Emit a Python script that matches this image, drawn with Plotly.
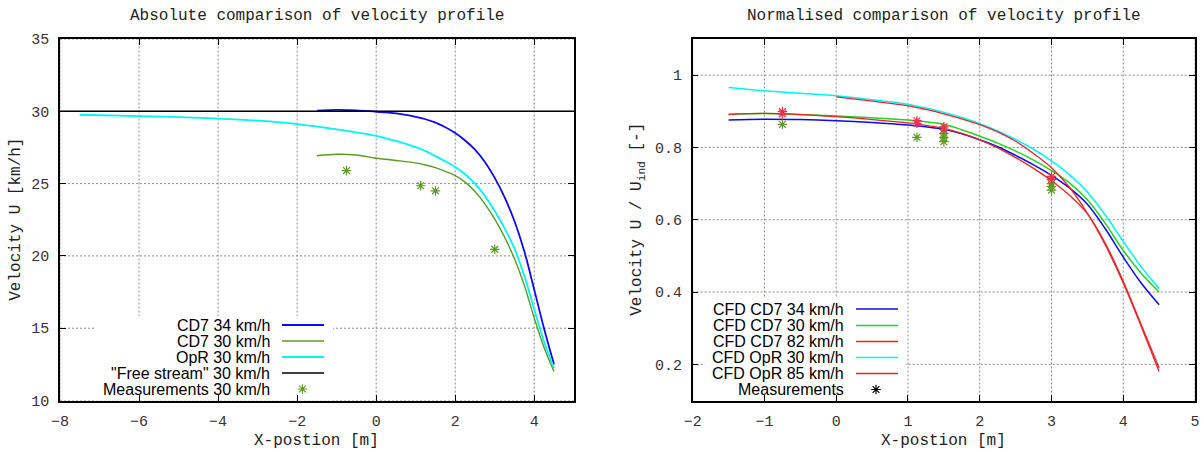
import plotly.graph_objects as go

W, H = 1204, 452

# ---------------- data: left panel (absolute velocity, km/h) ----------------
cd7_x = [-1.5, -1.0, -0.5, 0.0, 0.25, 0.5, 0.75, 1.0, 1.25, 1.5, 1.75, 2.0, 2.25, 2.5, 2.75,
         3.0, 3.25, 3.5, 3.75, 4.0, 4.25, 4.5]
cd7_34_u = [30.04, 30.1, 30.07, 29.97, 29.93, 29.86, 29.76, 29.62, 29.45, 29.22, 28.9, 28.5, 27.98,
            27.35, 26.5, 25.4, 24.05, 22.4, 20.3, 17.65, 14.95, 12.5]
cd7_30_u = [26.93, 27.03, 26.98, 26.75, 26.68, 26.6, 26.52, 26.43, 26.29, 26.1, 25.85, 25.55, 25.1,
            24.45, 23.6, 22.55, 21.3, 19.8, 17.95, 15.7, 13.65, 12.0]
opr_30_x = [-7.5, -6.0, -5.0, -4.0, -3.0, -2.0, -1.0, 0.0, 0.25, 0.5, 0.75, 1.0, 1.25, 1.5, 1.75,
            2.0, 2.25, 2.5, 2.75, 3.0, 3.25, 3.5, 3.75, 4.0, 4.25, 4.5]
opr_30_u = [29.76, 29.67, 29.6, 29.5, 29.35, 29.12, 28.75, 28.3, 28.13, 27.95, 27.75, 27.52, 27.25,
            26.9, 26.55, 26.15, 25.65, 25.0, 24.15, 23.1, 21.9, 20.5, 18.6, 16.3, 14.05, 12.25]
free_x = [-8, 5]
free_u = [30, 30]
meas_x = [-0.75, 1.125, 1.5, 3.0]
meas_u = [25.9, 24.85, 24.5, 20.45]

# ---------------- data: right panel (normalised, U / U_ind) ----------------
n_cd7_x = [-1.5, -1.0, -0.5, 0.0, 0.5, 1.0, 1.25, 1.5, 1.75, 2.0, 2.25, 2.5, 2.75, 3.0, 3.25,
           3.5, 3.75, 4.0, 4.25, 4.5]
n_cd7_34 = [0.876, 0.878, 0.877, 0.874, 0.869, 0.862, 0.857, 0.85, 0.838, 0.821, 0.802, 0.778,
            0.752, 0.723, 0.688, 0.643, 0.575, 0.497, 0.425, 0.365]
n_cd7_30 = [0.892, 0.894, 0.891, 0.887, 0.882, 0.876, 0.871, 0.864, 0.849, 0.831, 0.812, 0.79,
            0.765, 0.736, 0.702, 0.655, 0.59, 0.515, 0.452, 0.40]
n_cd7_82 = [0.891, 0.894, 0.891, 0.885, 0.877, 0.868, 0.861, 0.853, 0.839, 0.821, 0.799, 0.772,
            0.742, 0.708, 0.668, 0.617, 0.535, 0.43, 0.31, 0.19]
n_opr_30 = [0.966, 0.957, 0.95, 0.943, 0.932, 0.919, 0.909, 0.897, 0.883, 0.866, 0.846, 0.822,
            0.795, 0.763, 0.725, 0.677, 0.613, 0.54, 0.47, 0.41]
n_opr85_x = [0.0, 0.5, 1.0, 1.25, 1.5, 1.75, 2.0, 2.25, 2.5, 2.75, 3.0, 3.25, 3.5, 3.75, 4.0, 4.25, 4.5]
n_opr_85 = [0.94, 0.928, 0.915, 0.905, 0.893, 0.879, 0.863, 0.843, 0.817, 0.783, 0.744, 0.69,
            0.618, 0.53, 0.425, 0.305, 0.18]

nm_green_x = [-0.75, 1.125, 1.5, 3.0]
nm_green_a = [0.864, 0.828, 0.816, 0.682]
nm_green2_x = [1.5, 1.5, 3.0, 3.0]
nm_green2 = [0.827, 0.839, 0.692, 0.700]
nm_red_x = [-0.75, 1.125, 1.5, 3.0]
nm_red_a = [0.899, 0.874, 0.857, 0.720]
nm_red_b = [0.893, 0.867, 0.850, 0.711]

left_xticks = [-8, -6, -4, -2, 0, 2, 4]
left_yticks = [10, 15, 20, 25, 30, 35]
right_xticks = [-2, -1, 0, 1, 2, 3, 4, 5]
right_yticks = [0.2, 0.4, 0.6, 0.8, 1.0]
right_ytext = ["0.2", "0.4", "0.6", "0.8", "1"]

left_legend = ["CD7 34 km/h", "CD7 30 km/h", "OpR 30 km/h", "\"Free stream\" 30 km/h", "Measurements 30 km/h"]
right_legend = ["CFD CD7 34 km/h", "CFD CD7 30 km/h", "CFD CD7 82 km/h", "CFD OpR 30 km/h", "CFD OpR 85 km/h", "Measurements"]

# ---------------- styles ----------------
BLUE = "#0a0af0"
OLIVE = "#5a9b24"
CYAN = "#00f4f4"
BLACK = "#000000"
GREEN = "#22d422"
RED = "#f02020"
RED2 = "#e0282c"
MRED = "#f0304a"
GRID = "#8a8a8a"
MONO = "Liberation Mono, Courier New, monospace"
SANS = "Liberation Sans, Arial, sans-serif"

fig = go.Figure()

def line(x, y, color, width, name, xa="x", ya="y"):
    fig.add_trace(go.Scatter(x=x, y=y, mode="lines", name=name, showlegend=False,
                             line=dict(color=color, width=width, shape="spline", smoothing=1.0),
                             xaxis=xa, yaxis=ya))

def marks(x, y, color, name, xa="x", ya="y"):
    fig.add_trace(go.Scatter(x=x, y=y, mode="markers", name=name, showlegend=False,
                             marker=dict(symbol="asterisk-open", size=8, color=color,
                                         line=dict(color=color, width=1.2)),
                             xaxis=xa, yaxis=ya))

# left panel
line(cd7_x, cd7_34_u, BLUE, 1.8, "CD7 34 km/h")
line(cd7_x, cd7_30_u, OLIVE, 1.4, "CD7 30 km/h")
line(opr_30_x, opr_30_u, CYAN, 1.8, "OpR 30 km/h")
fig.add_trace(go.Scatter(x=free_x, y=free_u, mode="lines", name="Free stream", showlegend=False,
                         line=dict(color=BLACK, width=1.4)))
marks(meas_x, meas_u, OLIVE, "Measurements 30 km/h")

# right panel
line(n_cd7_x, n_cd7_34, BLUE, 1.5, "CFD CD7 34 km/h", "x2", "y2")
line(n_cd7_x, n_cd7_30, GREEN, 1.5, "CFD CD7 30 km/h", "x2", "y2")
line(n_cd7_x, n_cd7_82, RED, 1.3, "CFD CD7 82 km/h", "x2", "y2")
line(n_cd7_x, n_opr_30, CYAN, 1.5, "CFD OpR 30 km/h", "x2", "y2")
line(n_opr85_x, n_opr_85, RED2, 1.3, "CFD OpR 85 km/h", "x2", "y2")
marks(nm_green_x, nm_green_a, OLIVE, "Measurements", "x2", "y2")
marks(nm_green2_x, nm_green2, OLIVE, "Measurements", "x2", "y2")
marks(nm_red_x, nm_red_a, MRED, "Measurements", "x2", "y2")
marks(nm_red_x, nm_red_b, MRED, "Measurements", "x2", "y2")

# ---------------- geometry (pixels) ----------------
L = dict(x0=60, x1=573.8)
R = dict(x0=692.7, x1=1195)
TOP, BOT = 39, 400.5

def px(x):
    return x / W

def py(y):
    return 1 - y / H

axis_common = dict(showline=True, linecolor="black", linewidth=1.5, mirror="allticks",
                   ticks="inside", ticklen=6, tickcolor="black", tickwidth=1,
                   showgrid=False, zeroline=False, automargin=False,
                   tickfont=dict(family=MONO, size=15, color="#333333"))

fig.update_layout(
    width=W, height=H, margin=dict(l=0, r=0, t=0, b=0, autoexpand=False),
    paper_bgcolor="white", plot_bgcolor="rgba(0,0,0,0)", showlegend=False,
    xaxis=dict(domain=[px(L["x0"]), px(L["x1"])], range=[-8, 5], tickvals=left_xticks,
               anchor="y", ticklabelstandoff=6, **axis_common),
    yaxis=dict(domain=[py(BOT), py(TOP)], range=[10, 35], tickvals=left_yticks,
               anchor="x", ticklabelstandoff=6, **axis_common),
    xaxis2=dict(domain=[px(R["x0"]), px(R["x1"])], range=[-2, 5], tickvals=right_xticks,
                anchor="y2", ticklabelstandoff=6, **axis_common),
    yaxis2=dict(domain=[py(BOT), py(TOP)], range=[0.1, 1.1], tickvals=right_yticks,
                ticktext=right_ytext, anchor="x2", ticklabelstandoff=6, **axis_common),
    xaxis3=dict(domain=[0, 1], range=[0, W], visible=False, anchor="y3", fixedrange=True,
                automargin=False),
    yaxis3=dict(domain=[0, 1], range=[H, 0], visible=False, anchor="x3", fixedrange=True,
                automargin=False),
)

shapes = []
annotations = []

# dotted grid, drawn from the tick arrays (below traces)
grid_line = dict(color=GRID, width=1, dash="2px,2px")
for xa, ya, xt, yt in (("x", "y", left_xticks, left_yticks), ("x2", "y2", right_xticks, right_yticks)):
    for v in xt:
        shapes.append(dict(type="line", xref=xa, yref=ya + " domain", x0=v, x1=v, y0=0, y1=1,
                           layer="below", line=grid_line))
    for v in yt:
        shapes.append(dict(type="line", xref=xa + " domain", yref=ya, x0=0, x1=1, y0=v, y1=v,
                           layer="below", line=grid_line))

# legend background boxes hide the grid
shapes.append(dict(type="rect", xref="x domain", yref="y domain", layer="below",
                   x0=(95 - L["x0"]) / (L["x1"] - L["x0"]), x1=(333 - L["x0"]) / (L["x1"] - L["x0"]),
                   y0=0, y1=(BOT - 316) / (BOT - TOP), fillcolor="white", line=dict(width=0)))
shapes.append(dict(type="rect", xref="x2 domain", yref="y2 domain", layer="below",
                   x0=(705 - R["x0"]) / (R["x1"] - R["x0"]), x1=(906 - R["x0"]) / (R["x1"] - R["x0"]),
                   y0=0, y1=(BOT - 297) / (BOT - TOP), fillcolor="white", line=dict(width=0)))

# left legend
left_rows = [325, 341, 357, 373, 389]
left_cols = [BLUE, OLIVE, CYAN, BLACK, None]
left_w = [1.8, 1.4, 1.8, 1.4, None]
for txt, yy, col, wd in zip(left_legend, left_rows, left_cols, left_w):
    annotations.append(dict(text=txt, x=px(272), y=py(yy), xref="paper", yref="paper",
                            xanchor="right", yanchor="middle", showarrow=False,
                            font=dict(family=SANS, size=16, color="black")))
    if col:
        shapes.append(dict(type="line", xref="paper", yref="paper", x0=px(282), x1=px(324),
                           y0=py(yy), y1=py(yy), line=dict(color=col, width=wd)))

# right legend
right_rows = [309, 325.5, 341.5, 357.5, 373.5, 389.5]
right_cols = [BLUE, GREEN, RED, CYAN, RED2, None]
for txt, yy, col in zip(right_legend, right_rows, right_cols):
    annotations.append(dict(text=txt, x=px(846), y=py(yy), xref="paper", yref="paper",
                            xanchor="right", yanchor="middle", showarrow=False,
                            font=dict(family=SANS, size=16, color="black")))
    if col:
        shapes.append(dict(type="line", xref="paper", yref="paper", x0=px(856), x1=px(898),
                           y0=py(yy), y1=py(yy), line=dict(color=col, width=1.5)))

# legend marker samples (pixel overlay axes)
fig.add_trace(go.Scatter(x=[302.5], y=[left_rows[-1]], mode="markers", showlegend=False,
                         hoverinfo="skip", xaxis="x3", yaxis="y3",
                         marker=dict(symbol="asterisk-open", size=8, color=OLIVE,
                                     line=dict(color=OLIVE, width=1.2))))
fig.add_trace(go.Scatter(x=[876], y=[right_rows[-1]], mode="markers", showlegend=False,
                         hoverinfo="skip", xaxis="x3", yaxis="y3",
                         marker=dict(symbol="asterisk-open", size=8, color="black",
                                     line=dict(color="black", width=1.2))))

# titles and axis labels
tfont = dict(family=MONO, size=16, color="#222222")
lc = (L["x0"] + L["x1"]) / 2
rc = (R["x0"] + R["x1"]) / 2
mid = (TOP + BOT) / 2
annotations += [
    dict(text="Absolute comparison of velocity profile", x=px(lc), y=py(16), xref="paper", yref="paper",
         showarrow=False, xanchor="center", yanchor="middle", font=tfont),
    dict(text="Normalised comparison of velocity profile", x=px(rc), y=py(16), xref="paper", yref="paper",
         showarrow=False, xanchor="center", yanchor="middle", font=tfont),
    dict(text="X-postion [m]", x=px(lc), y=py(441), xref="paper", yref="paper",
         showarrow=False, xanchor="center", yanchor="middle", font=tfont),
    dict(text="X-postion [m]", x=px(rc), y=py(441), xref="paper", yref="paper",
         showarrow=False, xanchor="center", yanchor="middle", font=tfont),
    dict(text="Velocity U [km/h]", x=px(16), y=py(mid), xref="paper", yref="paper", textangle=-90,
         showarrow=False, xanchor="center", yanchor="middle", font=tfont),
    dict(text="Velocity U / U<sub>ind</sub> [-]", x=px(638), y=py(mid), xref="paper", yref="paper",
         textangle=-90, showarrow=False, xanchor="center", yanchor="middle", font=tfont),
]

fig.update_layout(shapes=shapes, annotations=annotations)
fig.write_html("out.html")
